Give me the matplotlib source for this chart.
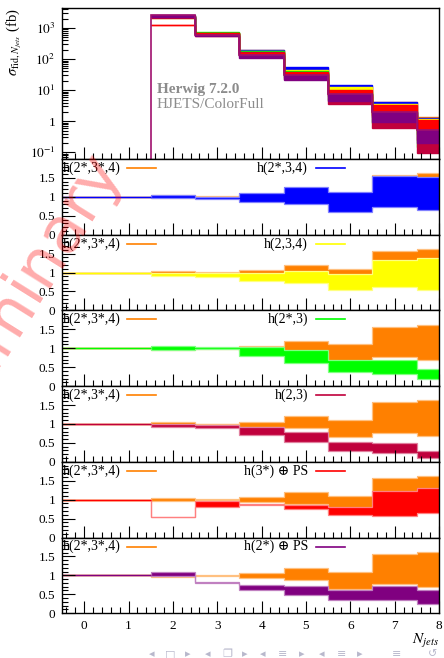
import numpy as np
import matplotlib
matplotlib.use('Agg')
import matplotlib.pyplot as plt
from matplotlib.ticker import MultipleLocator, FuncFormatter, LogLocator, NullFormatter
from matplotlib.lines import Line2D

plt.rcParams['font.family'] = ['Liberation Serif', 'DejaVu Serif']
plt.rcParams['mathtext.fontset'] = 'stix'

# ---------------- data ----------------
njets = np.arange(0, 9)                      # N_jets bins 0..8
xtick_labels = ['0', '1', '2', '3', '4', '5', '6', '7', '8']

# reference h(2*,3*,4) central cross section [fb]
ref_xs = [0, 0, 2350, 705, 180, 44, 12.8, 2.7, 0.85]
ref_label = 'h(2*,3*,4)'
ref_color = '#ff8000'
ref_lo = [1, 1, 0.96, 0.99, 0.93, 0.88, 0.65, 0.77, 0.68]
ref_hi = [1, 1, 1.04, 1.01, 1.06, 1.20, 1.10, 1.57, 1.62]

labels = ['h(2*,3,4)', 'h(2,3,4)', 'h(2*,3)', 'h(2,3)', 'h(3*) ⊕ PS', 'h(2*) ⊕ PS']
colors = ['#0000ff', '#ffff00', '#00ff00', '#c0003c', '#ff0000', '#800080']
lo_blue = [1, 1, 0.96, 0.94, 0.86, 0.81, 0.61, 0.73, 0.64]
hi_blue = [1, 1, 1.06, 1.00, 1.10, 1.26, 1.13, 1.56, 1.53]
lo_yellow = [1, 1, 0.92, 0.88, 0.77, 0.72, 0.54, 0.61, 0.55]
hi_yellow = [1, 1, 1.00, 0.98, 0.99, 1.05, 0.96, 1.32, 1.38]
lo_green = [1, 1, 0.96, 0.97, 0.79, 0.62, 0.38, 0.32, 0.18]
hi_green = [1, 1, 1.05, 1.02, 1.02, 0.96, 0.70, 0.70, 0.46]
lo_crimson = [1, 1, 0.92, 0.89, 0.70, 0.52, 0.29, 0.23, 0.11]
hi_crimson = [1, 1, 1.01, 0.98, 0.91, 0.79, 0.52, 0.49, 0.29]
lo_red = [1, 1, 0.53, 0.81, 0.85, 0.75, 0.59, 0.57, 0.65]
hi_red = [1, 1, 0.55, 0.97, 0.89, 0.86, 0.81, 1.23, 1.32]
lo_purple = [1, 1, 0.98, 0.80, 0.60, 0.48, 0.34, 0.34, 0.24]
hi_purple = [1, 1, 1.09, 0.83, 0.75, 0.72, 0.61, 0.73, 0.61]
los = [lo_blue, lo_yellow, lo_green, lo_crimson, lo_red, lo_purple]
his = [hi_blue, hi_yellow, hi_green, hi_crimson, hi_red, hi_purple]

# ---------------- helpers ----------------
edges = np.append(njets - 0.5, njets[-1] + 0.5)

def lighten(c, f=0.5):
    rgb = np.array(matplotlib.colors.to_rgb(c))
    return tuple(rgb + (1 - rgb) * f)

W, H = 444, 658
fig = plt.figure(figsize=(W / 100, H / 100), dpi=100)

left_px, right_px = 62, 439
top_px, main_bot_px = 8, 159
rh = 75.7

def fax(t, b):
    return [left_px / W, 1 - b / H, (right_px - left_px) / W, (b - t) / H]

def style_x(ax, labels_on):
    ax.set_xlim(-0.5, 8.0)
    ax.xaxis.set_major_locator(MultipleLocator(1))
    ax.xaxis.set_minor_locator(MultipleLocator(0.2))
    ax.tick_params(axis='x', which='major', direction='in', length=8.5, width=0.8,
                   top=False, labelsize=9.5, pad=5, labelbottom=labels_on)
    ax.tick_params(axis='x', which='minor', direction='in', length=4, width=0.8, top=False)
    if labels_on:
        ax.set_xticks(njets)
        ax.set_xticklabels(xtick_labels)
    for s in ax.spines.values():
        s.set_linewidth(1.0)

# ---------------- main panel ----------------
ax0 = fig.add_axes(fax(top_px, main_bot_px))
ax0.set_yscale('log')
ax0.set_ylim(0.061, 4400)
ref = np.array(ref_xs, dtype=float)
sel = slice(2, None)
e2 = edges[2:]
all_bands = [(ref_lo, ref_hi, ref_color)] + list(zip(los, his, colors))
for lo, hi, c in all_bands:
    lo = ref[sel] * np.array(lo)[sel]
    hi = ref[sel] * np.array(hi)[sel]
    ax0.stairs(hi, e2, baseline=lo, fill=True, color=c, lw=0)
    ax0.stairs(hi, e2, baseline=None, color=c, lw=1.0)
    ax0.stairs(lo, e2, baseline=None, color=c, lw=1.0)
# outline of last histogram including empty bins (vertical edge at 1.5)
outline = np.where(ref * np.array(hi_purple) > 0, ref * np.array(hi_purple), 1e-9)
ax0.stairs(outline[1:], edges[1:], baseline=None, color='#a0106e', lw=1.2)

def logfmt(v, pos):
    e = int(round(np.log10(v)))
    return '1' if e == 0 else r'$10^{%d}$' % e
ax0.yaxis.set_major_locator(LogLocator(base=10, numticks=10))
ax0.yaxis.set_minor_locator(LogLocator(base=10, subs=np.arange(2, 10), numticks=20))
ax0.yaxis.set_major_formatter(FuncFormatter(logfmt))
ax0.yaxis.set_minor_formatter(NullFormatter())
ax0.tick_params(axis='y', which='major', direction='in', length=9, width=0.8, labelsize=9.5, pad=5)
ax0.tick_params(axis='y', which='minor', direction='in', length=4.5, width=0.8)
style_x(ax0, False)
ax0.set_ylabel(r'$\sigma_{\mathrm{fid},N_{jets}}$ (fb)', fontsize=10.5, loc='top', labelpad=4)
ax0.text(0.252, 0.46, 'Herwig 7.2.0', transform=ax0.transAxes, fontsize=11,
         fontweight='bold', color='#8c8c8c', va='center', ha='left')
ax0.text(0.252, 0.36, 'HJETS/ColorFull', transform=ax0.transAxes, fontsize=11,
         color='#8c8c8c', va='center', ha='left')

# ---------------- ratio panels ----------------
def draw_band(ax, lo, hi, c):
    lo = np.array(lo, dtype=float)
    hi = np.array(hi, dtype=float)
    lc = lighten(c, 0.5)
    ax.stairs(hi, edges, baseline=lo, fill=True, color=c, lw=0)
    ax.stairs(hi, edges, baseline=None, color=lc, lw=0.9)
    ax.stairs(lo, edges, baseline=None, color=lc, lw=0.9)
    ax.stairs(hi[:2], edges[:3], baseline=None, color=c, lw=1.0)

for k in range(6):
    t = main_bot_px + rh * k
    ax = fig.add_axes(fax(t, t + rh))
    ax.set_ylim(0, 2.0)
    draw_band(ax, ref_lo, ref_hi, ref_color)
    draw_band(ax, los[k], his[k], colors[k])
    ax.yaxis.set_major_locator(MultipleLocator(0.5))
    ax.yaxis.set_minor_locator(MultipleLocator(0.1))
    ax.yaxis.set_major_formatter(FuncFormatter(lambda v, p: '%g' % v if v < 1.9 else ''))
    ax.tick_params(axis='y', which='major', direction='in', length=9, width=0.8, labelsize=9.5, pad=5)
    ax.tick_params(axis='y', which='minor', direction='in', length=4.5, width=0.8)
    style_x(ax, k == 5)
    # legend entries
    ax.text(0.003, 0.88, ref_label, transform=ax.transAxes, fontsize=10,
            va='center', ha='left', zorder=5)
    ax.add_line(Line2D([0.172, 0.249], [0.88, 0.88], transform=ax.transAxes,
                       color=ref_color, lw=1.2))
    ax.text(0.653, 0.88, labels[k], transform=ax.transAxes, fontsize=10,
            va='center', ha='right', zorder=5)
    ax.add_line(Line2D([0.674, 0.751], [0.88, 0.88], transform=ax.transAxes,
                       color=colors[k], lw=1.2))

fig.text(439 / W, 1 - 632 / H, r'$N_{jets}$', fontsize=11, ha='right', va='top')

# watermark
fig.text(122 / W, 1 - 166 / H, 'Preliminary', rotation=58, rotation_mode='anchor',
         ha='right', va='baseline', fontsize=46, color='red', alpha=0.33,
         family='DejaVu Sans', zorder=10)

# beamer navigation symbols
nav = ['◂', '□', '▸', '◂', '❐', '▸', '◂', '≡', '▸', '◂', '≡', '▸', '≡', '↺']
nav_x = [152, 170, 188, 208, 227, 245, 263, 283, 302, 322, 342, 360, 397, 433]
for s, xp in zip(nav, nav_x):
    fig.text(xp / W, 1 - 654 / H, s, fontsize=8, color='#b8b8cc', ha='center',
             va='center', family=['DejaVu Sans', 'Noto Sans'])

fig.savefig('out.png', dpi=100)
